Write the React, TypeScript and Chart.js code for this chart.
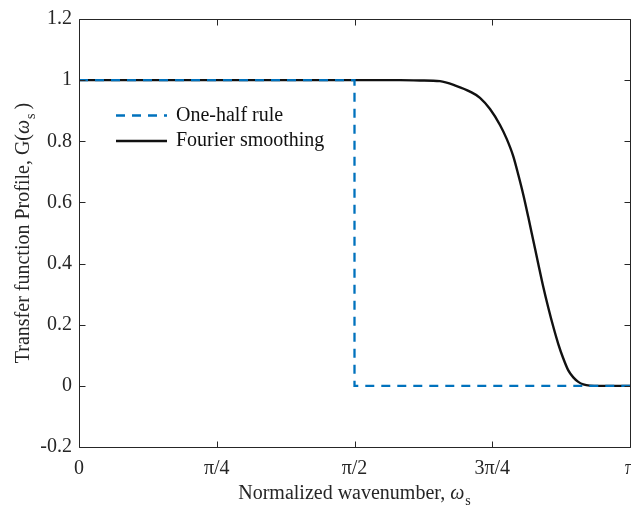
import React, { useEffect, useRef } from 'react';
import { Chart, registerables } from 'chart.js';

Chart.register(...registerables);

const PI = Math.PI;

// Axis ticks
const X_TICK_VALUES = [0, PI / 4, PI / 2, (3 * PI) / 4, PI];
const X_TICK_LABELS = ['0', 'π/4', 'π/2', '3π/4', 'π'];
const Y_TICK_VALUES = [-0.2, 0, 0.2, 0.4, 0.6, 0.8, 1, 1.2];
const Y_TICK_LABELS = ['-0.2', '0', '0.2', '0.4', '0.6', '0.8', '1', '1.2'];

// Series labels
const SERIES_LABELS = ['One-half rule', 'Fourier smoothing'];

// One-half rule (step)
const HALF_RULE_X = [0, PI / 2, PI / 2, PI];
const HALF_RULE_Y = [1, 1, 0, 0];

// Fourier smoothing
const FOURIER_X = [
  0, 0.6, 1.2, 1.6, 1.8302, 1.9442, 2.0583, 2.1535, 2.2293, 2.2863, 2.3434, 2.4004, 2.4386,
  2.4762, 2.5047, 2.5332, 2.5617, 2.5902, 2.6187, 2.6473, 2.6758, 2.7043, 2.7328, 2.7613,
  2.7898, 2.8183, 2.8468, 2.8753, 2.9135, 2.9705, 3.05, PI,
];
const FOURIER_Y = [
  1, 1, 1, 1, 1, 0.999, 0.9967, 0.9805, 0.9625, 0.9423, 0.9055, 0.8534, 0.8078,
  0.7508, 0.6906, 0.6254, 0.5521, 0.4756, 0.399, 0.3235, 0.2557, 0.1932, 0.1368, 0.0896,
  0.0505, 0.0277, 0.013, 0.0046, 0.0007, 0, 0, 0,
];

// Axis titles: [text, symbol, subscript, trailing]
const X_TITLE = ['Normalized wavenumber, ', 'ω', 's', ''];
const Y_TITLE = ['Transfer function Profile, G(', 'ω', 's', ')'];

const FONT_FAMILY = "'Liberation Serif', 'Times New Roman', serif";
const AXIS_COLOR = '#262626';
const BLUE = '#0072BD';
const BLACK = '#111111';

function drawMathLabel(ctx: CanvasRenderingContext2D, parts: string[], size: number, cx: number) {
  const reg = `${size}px ${FONT_FAMILY}`;
  const ital = `italic ${size}px ${FONT_FAMILY}`;
  const subSize = Math.round(size * 0.72);
  const sub = `${subSize}px ${FONT_FAMILY}`;
  ctx.font = reg;
  const w1 = ctx.measureText(parts[0]).width;
  ctx.font = ital;
  const w2 = ctx.measureText(parts[1]).width;
  ctx.font = sub;
  const w3 = ctx.measureText(parts[2]).width;
  ctx.font = reg;
  const w4 = parts[3] ? ctx.measureText(parts[3]).width : 0;
  const gap = parts[3] ? 4 : 0;
  const total = w1 + w2 + 1 + w3 + gap + w4;
  let x = cx - total / 2;
  ctx.textAlign = 'left';
  ctx.textBaseline = 'alphabetic';
  ctx.font = reg;
  ctx.fillText(parts[0], x, 0);
  x += w1;
  ctx.font = ital;
  ctx.fillText(parts[1], x, 0);
  x += w2 + 1;
  ctx.font = sub;
  ctx.fillText(parts[2], x, size * 0.32);
  x += w3 + gap;
  if (parts[3]) {
    ctx.font = reg;
    ctx.fillText(parts[3], x, 0);
  }
}

const framePlugin = {
  id: 'matlabFrame',
  afterDatasetsDraw(chart: any) {
    const { ctx, chartArea: a, scales } = chart;
    const xs = scales.x;
    const ys = scales.y;
    const L = Math.floor(a.left) + 0.5;
    const R = Math.floor(a.right) + 0.5;
    const T = Math.floor(a.top) + 0.5;
    const B = Math.floor(a.bottom) + 0.5;
    const tl = 6;
    ctx.save();
    ctx.strokeStyle = AXIS_COLOR;
    ctx.lineWidth = 1;
    ctx.beginPath();
    ctx.rect(L, T, R - L, B - T);
    X_TICK_VALUES.forEach((v) => {
      const px = Math.round(xs.getPixelForValue(v)) + 0.5;
      ctx.moveTo(px, B);
      ctx.lineTo(px, B - tl);
      ctx.moveTo(px, T);
      ctx.lineTo(px, T + tl);
    });
    Y_TICK_VALUES.forEach((v) => {
      const py = Math.round(ys.getPixelForValue(v)) + 0.5;
      ctx.moveTo(L, py);
      ctx.lineTo(L + tl, py);
      ctx.moveTo(R, py);
      ctx.lineTo(R - tl, py);
    });
    ctx.stroke();
    ctx.restore();
  },
  afterDraw(chart: any) {
    const { ctx, chartArea: a } = chart;
    ctx.save();
    ctx.fillStyle = AXIS_COLOR;
    // x title
    ctx.save();
    ctx.translate(0, 499);
    drawMathLabel(ctx, X_TITLE, 20, (a.left + a.right) / 2);
    ctx.restore();
    // y title
    ctx.save();
    ctx.translate(29, 0);
    ctx.rotate(-Math.PI / 2);
    drawMathLabel(ctx, Y_TITLE, 20, -(a.top + a.bottom) / 2);
    ctx.restore();

    // legend
    const rows = [115.5, 141];
    chart.data.datasets.forEach((ds: any, i: number) => {
      const y = rows[i];
      ctx.save();
      ctx.strokeStyle = ds.borderColor;
      ctx.lineWidth = ds.borderWidth;
      ctx.setLineDash(ds.borderDash || []);
      ctx.beginPath();
      ctx.moveTo(116, y);
      ctx.lineTo(167, y);
      ctx.stroke();
      ctx.restore();
      ctx.fillStyle = '#111';
      ctx.font = `20px ${FONT_FAMILY}`;
      ctx.textAlign = 'left';
      ctx.textBaseline = 'middle';
      ctx.fillText(ds.label, 176, y);
    });
    ctx.restore();
  },
};

export default function App() {
  const canvasRef = useRef<HTMLCanvasElement | null>(null);

  useEffect(() => {
    if (!canvasRef.current) return;
    const halfData = HALF_RULE_X.map((x, i) => ({ x, y: HALF_RULE_Y[i] }));
    const fourierData = FOURIER_X.map((x, i) => ({ x, y: FOURIER_Y[i] }));
    const tickFont = { family: FONT_FAMILY, size: 20 };
    const chart = new Chart(canvasRef.current, {
      type: 'line',
      data: {
        datasets: [
          {
            label: SERIES_LABELS[0],
            data: halfData,
            borderColor: BLUE,
            borderWidth: 2.3,
            borderDash: [9, 7],
            pointRadius: 0,
            tension: 0,
            fill: false,
          },
          {
            label: SERIES_LABELS[1],
            data: fourierData,
            borderColor: BLACK,
            borderWidth: 2.4,
            pointRadius: 0,
            cubicInterpolationMode: 'monotone',
            fill: false,
          },
        ],
      },
      options: {
        animation: false,
        responsive: false,
        events: [],
        layout: { padding: { top: 19, right: 30, bottom: 0, left: 0 } },
        plugins: {
          legend: { display: false },
          tooltip: { enabled: false },
        },
        scales: {
          x: {
            type: 'linear',
            min: 0,
            max: PI,
            afterBuildTicks: (s: any) => {
              s.ticks = X_TICK_VALUES.map((value) => ({ value }));
            },
            afterFit: (s: any) => {
              s.height = 61;
            },
            ticks: {
              autoSkip: false,
              maxRotation: 0,
              padding: 10,
              color: AXIS_COLOR,
              font: tickFont,
              callback: (_v: any, i: number) => X_TICK_LABELS[i],
            },
            grid: { display: false, drawTicks: false },
            border: { display: false },
          },
          y: {
            type: 'linear',
            min: -0.2,
            max: 1.2,
            afterBuildTicks: (s: any) => {
              s.ticks = Y_TICK_VALUES.map((value) => ({ value }));
            },
            afterFit: (s: any) => {
              s.width = 79;
            },
            ticks: {
              autoSkip: false,
              padding: 7,
              color: AXIS_COLOR,
              font: tickFont,
              callback: (_v: any, i: number) => Y_TICK_LABELS[i],
            },
            grid: { display: false, drawTicks: false },
            border: { display: false },
          },
        },
      },
      plugins: [framePlugin],
    } as any);
    return () => chart.destroy();
  }, []);

  return (
    <div
      style={{
        position: 'fixed',
        left: 0,
        top: 0,
        width: 631,
        height: 508,
        overflow: 'hidden',
        background: '#fff',
      }}
    >
      <canvas ref={canvasRef} width={660} height={508} style={{ display: 'block' }} />
    </div>
  );
}
